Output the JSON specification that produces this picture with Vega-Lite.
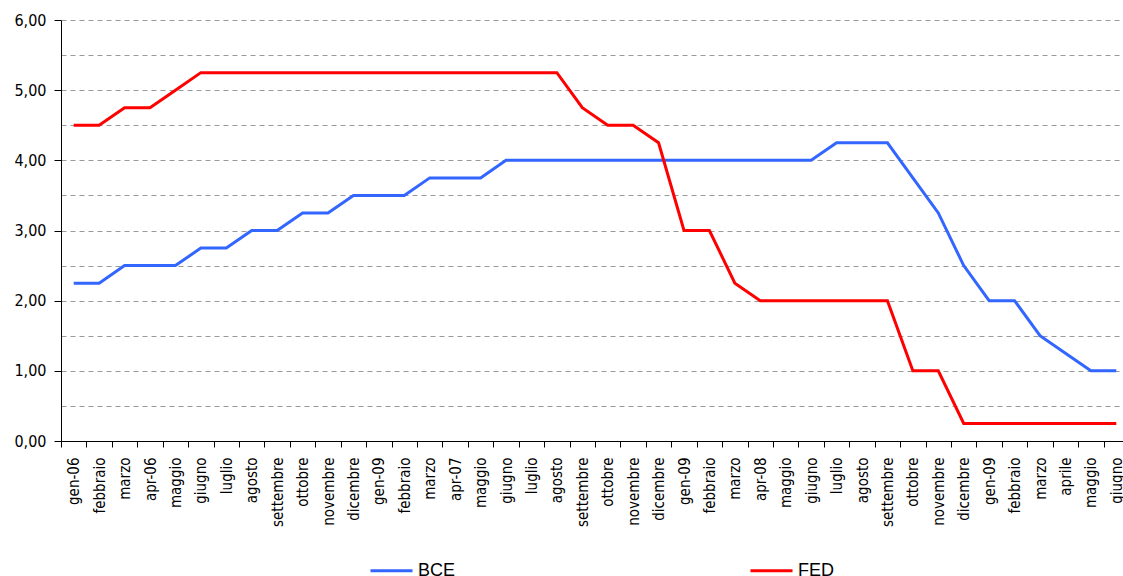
{
  "$schema": "https://vega.github.io/schema/vega-lite/v6.json",
  "width": 1068,
  "height": 421,
  "autosize": {"type": "none"},
  "padding": {"left": 61, "top": 20, "right": -6, "bottom": 135},
  "background": "white",
  "config": {
    "view": {"stroke": null},
    "axis": {"labelFont": "DejaVu Sans Condensed", "labelColor": "#000000", "domainColor": "#000000", "tickColor": "#000000"}
  },
  "data": {
    "values": [
      {"i": 0, "serie": "BCE", "tasso": 2.25}, {"i": 1, "serie": "BCE", "tasso": 2.25},
      {"i": 2, "serie": "BCE", "tasso": 2.5}, {"i": 3, "serie": "BCE", "tasso": 2.5},
      {"i": 4, "serie": "BCE", "tasso": 2.5}, {"i": 5, "serie": "BCE", "tasso": 2.75},
      {"i": 6, "serie": "BCE", "tasso": 2.75}, {"i": 7, "serie": "BCE", "tasso": 3.0},
      {"i": 8, "serie": "BCE", "tasso": 3.0}, {"i": 9, "serie": "BCE", "tasso": 3.25},
      {"i": 10, "serie": "BCE", "tasso": 3.25}, {"i": 11, "serie": "BCE", "tasso": 3.5},
      {"i": 12, "serie": "BCE", "tasso": 3.5}, {"i": 13, "serie": "BCE", "tasso": 3.5},
      {"i": 14, "serie": "BCE", "tasso": 3.75}, {"i": 15, "serie": "BCE", "tasso": 3.75},
      {"i": 16, "serie": "BCE", "tasso": 3.75}, {"i": 17, "serie": "BCE", "tasso": 4.0},
      {"i": 18, "serie": "BCE", "tasso": 4.0}, {"i": 19, "serie": "BCE", "tasso": 4.0},
      {"i": 20, "serie": "BCE", "tasso": 4.0}, {"i": 21, "serie": "BCE", "tasso": 4.0},
      {"i": 22, "serie": "BCE", "tasso": 4.0}, {"i": 23, "serie": "BCE", "tasso": 4.0},
      {"i": 24, "serie": "BCE", "tasso": 4.0}, {"i": 25, "serie": "BCE", "tasso": 4.0},
      {"i": 26, "serie": "BCE", "tasso": 4.0}, {"i": 27, "serie": "BCE", "tasso": 4.0},
      {"i": 28, "serie": "BCE", "tasso": 4.0}, {"i": 29, "serie": "BCE", "tasso": 4.0},
      {"i": 30, "serie": "BCE", "tasso": 4.25}, {"i": 31, "serie": "BCE", "tasso": 4.25},
      {"i": 32, "serie": "BCE", "tasso": 4.25}, {"i": 33, "serie": "BCE", "tasso": 3.75},
      {"i": 34, "serie": "BCE", "tasso": 3.25}, {"i": 35, "serie": "BCE", "tasso": 2.5},
      {"i": 36, "serie": "BCE", "tasso": 2.0}, {"i": 37, "serie": "BCE", "tasso": 2.0},
      {"i": 38, "serie": "BCE", "tasso": 1.5}, {"i": 39, "serie": "BCE", "tasso": 1.25},
      {"i": 40, "serie": "BCE", "tasso": 1.0}, {"i": 41, "serie": "BCE", "tasso": 1.0},
      {"i": 0, "serie": "FED", "tasso": 4.5}, {"i": 1, "serie": "FED", "tasso": 4.5},
      {"i": 2, "serie": "FED", "tasso": 4.75}, {"i": 3, "serie": "FED", "tasso": 4.75},
      {"i": 4, "serie": "FED", "tasso": 5.0}, {"i": 5, "serie": "FED", "tasso": 5.25},
      {"i": 6, "serie": "FED", "tasso": 5.25}, {"i": 7, "serie": "FED", "tasso": 5.25},
      {"i": 8, "serie": "FED", "tasso": 5.25}, {"i": 9, "serie": "FED", "tasso": 5.25},
      {"i": 10, "serie": "FED", "tasso": 5.25}, {"i": 11, "serie": "FED", "tasso": 5.25},
      {"i": 12, "serie": "FED", "tasso": 5.25}, {"i": 13, "serie": "FED", "tasso": 5.25},
      {"i": 14, "serie": "FED", "tasso": 5.25}, {"i": 15, "serie": "FED", "tasso": 5.25},
      {"i": 16, "serie": "FED", "tasso": 5.25}, {"i": 17, "serie": "FED", "tasso": 5.25},
      {"i": 18, "serie": "FED", "tasso": 5.25}, {"i": 19, "serie": "FED", "tasso": 5.25},
      {"i": 20, "serie": "FED", "tasso": 4.75}, {"i": 21, "serie": "FED", "tasso": 4.5},
      {"i": 22, "serie": "FED", "tasso": 4.5}, {"i": 23, "serie": "FED", "tasso": 4.25},
      {"i": 24, "serie": "FED", "tasso": 3.0}, {"i": 25, "serie": "FED", "tasso": 3.0},
      {"i": 26, "serie": "FED", "tasso": 2.25}, {"i": 27, "serie": "FED", "tasso": 2.0},
      {"i": 28, "serie": "FED", "tasso": 2.0}, {"i": 29, "serie": "FED", "tasso": 2.0},
      {"i": 30, "serie": "FED", "tasso": 2.0}, {"i": 31, "serie": "FED", "tasso": 2.0},
      {"i": 32, "serie": "FED", "tasso": 2.0}, {"i": 33, "serie": "FED", "tasso": 1.0},
      {"i": 34, "serie": "FED", "tasso": 1.0}, {"i": 35, "serie": "FED", "tasso": 0.25},
      {"i": 36, "serie": "FED", "tasso": 0.25}, {"i": 37, "serie": "FED", "tasso": 0.25},
      {"i": 38, "serie": "FED", "tasso": 0.25}, {"i": 39, "serie": "FED", "tasso": 0.25},
      {"i": 40, "serie": "FED", "tasso": 0.25}, {"i": 41, "serie": "FED", "tasso": 0.25}
    ]
  },
  "mark": {"type": "line", "strokeWidth": 3, "strokeJoin": "miter"},
  "encoding": {
    "x": {
      "field": "i",
      "type": "ordinal",
      "bandPosition": 0.5,
      "scale": {"type": "band", "paddingInner": 0, "paddingOuter": 0},
      "axis": {
        "title": null,
        "tickBand": "extent",
        "labelAngle": -90,
        "labelAlign": "right",
        "labelBaseline": "middle",
        "labelFontSize": 15,
        "labelPadding": 10,
        "tickSize": 6,
        "domainWidth": 1,
        "labelOverlap": false,
        "labelExpr": "['gen-06','febbraio','marzo','apr-06','maggio','giugno','luglio','agosto','settembre','ottobre','novembre','dicembre','gen-09','febbraio','marzo','apr-07','maggio','giugno','luglio','agosto','settembre','ottobre','novembre','dicembre','gen-09','febbraio','marzo','apr-08','maggio','giugno','luglio','agosto','settembre','ottobre','novembre','dicembre','gen-09','febbraio','marzo','aprile','maggio','giugno'][datum.value]"
      }
    },
    "y": {
      "field": "tasso",
      "type": "quantitative",
      "scale": {"domain": [0, 6], "nice": false, "zero": true},
      "axis": {
        "title": null,
        "values": [0, 0.5, 1, 1.5, 2, 2.5, 3, 3.5, 4, 4.5, 5, 5.5, 6],
        "grid": true,
        "gridColor": "#9a9a9a",
        "gridDash": [5, 4],
        "gridWidth": 1,
        "tickSize": 7,
        "tickOpacity": {"condition": {"test": "datum.value % 1 === 0", "value": 1}, "value": 0},
        "labelFontSize": 16,
        "labelPadding": 8,
        "labelExpr": "datum.value % 1 === 0 ? replace(format(datum.value, '.2f'), '.', ',') : ''"
      }
    },
    "color": {
      "field": "serie",
      "type": "nominal",
      "scale": {"domain": ["BCE", "FED"], "range": ["#3366ff", "#ff0000"]},
      "legend": {
        "title": null,
        "orient": "none",
        "legendX": 308,
        "legendY": 528,
        "direction": "horizontal",
        "symbolType": "stroke",
        "symbolSize": 1764,
        "symbolStrokeWidth": 3,
        "labelFont": "Liberation Sans",
        "labelFontSize": 18,
        "labelColor": "#000000",
        "labelOffset": 4,
        "columnPadding": 288,
        "padding": 0
      }
    }
  }
}
